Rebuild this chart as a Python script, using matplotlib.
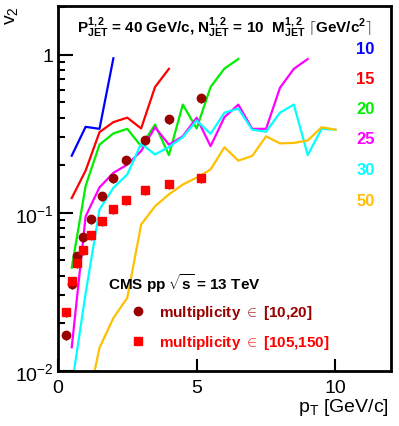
import matplotlib
matplotlib.use("Agg")
import matplotlib.pyplot as plt
import numpy as np

plt.rcParams['font.family'] = ['Liberation Sans', 'DejaVu Sans']
plt.rcParams['mathtext.fontset'] = 'custom'
plt.rcParams['mathtext.rm'] = 'Liberation Sans'
plt.rcParams['mathtext.bf'] = 'Liberation Sans:bold'
plt.rcParams['mathtext.it'] = 'Liberation Sans:italic'

# ---- data ----
mass_labels = ["10", "15", "20", "25", "30", "50"]
mass_colors = ["#0000ff", "#ff0000", "#00ee00", "#ff00ff", "#00ffff", "#ffc000"]

x_m10 = [0.5, 1.0, 1.5, 2.0]
v2_m10 = [0.23, 0.35, 0.34, 0.95]

x_m15 = [0.5, 1.0, 1.5, 2.0, 2.5, 3.0, 3.5, 4.0]
v2_m15 = [0.124, 0.185, 0.324, 0.375, 0.40, 0.342, 0.625, 0.815]

x_m20 = [0.5, 1.0, 1.5, 2.0, 2.5, 3.0, 3.5, 4.0, 4.5, 5.0, 5.5, 6.0, 6.5]
v2_m20 = [0.045, 0.148, 0.27, 0.318, 0.34, 0.264, 0.362, 0.232, 0.484, 0.342, 0.625, 0.818, 0.94]

x_m25 = [0.5, 1.0, 1.5, 2.0, 2.5, 3.0, 3.5, 4.0, 4.5, 5.0, 5.5, 6.0, 6.5, 7.0, 7.5, 8.0, 8.5, 9.0]
v2_m25 = [0.0141, 0.095, 0.145, 0.179, 0.202, 0.246, 0.348, 0.27, 0.305, 0.40, 0.264, 0.403, 0.484,
          0.34, 0.34, 0.618, 0.815, 0.94]

x_m30 = [0.5, 1.0, 1.5, 2.0, 2.5, 3.0, 3.5, 4.0, 4.5, 5.0, 5.5, 6.0, 6.5, 7.0, 7.5, 8.0, 8.5, 9.0, 9.5, 10.0]
v2_m30 = [0.008, 0.031, 0.105, 0.144, 0.175, 0.274, 0.234, 0.261, 0.301, 0.384, 0.316, 0.43, 0.457,
          0.336, 0.326, 0.43, 0.484, 0.232, 0.34, 0.336]

x_m50 = [1.0, 1.5, 2.0, 2.5, 3.0, 3.5, 4.0, 4.5, 5.0, 5.5, 6.0, 6.5, 7.0, 7.5, 8.0, 8.5, 9.0, 9.5, 10.0]
v2_m50 = [0.0054, 0.014, 0.0216, 0.029, 0.0844, 0.110, 0.131, 0.151, 0.167, 0.188, 0.26, 0.214,
          0.229, 0.305, 0.275, 0.277, 0.287, 0.348, 0.336]

cms_pt = [0.3, 0.5, 0.7, 0.9, 1.2, 1.6, 2.0, 2.45, 3.15, 4.0, 5.15]
cms_v2_low = [0.0168, 0.0356, 0.053, 0.0705, 0.092, 0.128, 0.167, 0.216, 0.288, 0.39, 0.535]
cms_v2_high = [0.0236, 0.037, 0.048, 0.058, 0.072, 0.089, 0.106, 0.120, 0.140, 0.153, 0.167]

series_x = [x_m10, x_m15, x_m20, x_m25, x_m30, x_m50]
series_y = [v2_m10, v2_m15, v2_m20, v2_m25, v2_m30, v2_m50]

# ---- figure ----
fig = plt.figure(figsize=(3.99, 4.27), dpi=100)
ax = fig.add_axes([0.145, 0.129, 0.835, 0.855])
ax.set_yscale('log')
ax.set_xlim(0, 12)
ax.set_ylim(0.01, 2.04)

for xs, ys, c in zip(series_x, series_y, mass_colors):
    ax.plot(xs, ys, color=c, lw=1.6, zorder=2)

err_lo = [v * 0.07 for v in cms_v2_low]
err_hi = [v * 0.07 for v in cms_v2_high]
ax.errorbar(cms_pt, cms_v2_low, yerr=[err_lo, [0] * len(err_lo)], fmt='o', color='#990000',
            ecolor='black', elinewidth=1.0, capsize=0, ms=6, zorder=3)
ax.errorbar(cms_pt, cms_v2_high, yerr=[err_hi, [0] * len(err_hi)], fmt='s', color='#ff0000',
            ecolor='black', elinewidth=1.0, capsize=0, ms=6, zorder=3)

# ticks
ax.set_xticks([0, 5, 10])
ax.set_xticklabels(["0", "5", "10"])
ax.xaxis.set_minor_locator(matplotlib.ticker.NullLocator())
ax.tick_params(axis='both', which='both', direction='in', top=False, right=False,
               labelsize=14, width=1.5)
ax.tick_params(axis='x', which='major', length=9, pad=6)
ax.tick_params(axis='y', which='major', length=11, pad=3)
ax.tick_params(axis='y', which='minor', length=5)
ax.set_yticks([0.01, 0.1, 1])
ax.set_yticklabels([r"$10^{-2}$", r"$10^{-1}$", "1"])
for s in ax.spines.values():
    s.set_linewidth(2)

# axis labels
fig.text(0.03, 0.985, r"v$_2$", rotation=90, ha='center', va='top', fontsize=14)
fig.text(0.975, 0.02, r"p$_{\mathrm{T}}$ [GeV/c]", ha='right', va='bottom', fontsize=14)

# header
ax.text(0.5, 0.975,
        r"$\mathbf{P^{1,2}_{JET}}$ = 40 GeV/c, $\mathbf{N^{1,2}_{JET}}$ = 10  $\mathbf{M^{1,2}_{JET}}$ $\lceil$GeV/c$\mathbf{^2}\rceil$",
        transform=ax.transAxes, ha='center', va='top', fontsize=11, fontweight='bold')

label_y = [50, 80, 110, 140, 171, 202]
for lab, c, py in zip(mass_labels, mass_colors, label_y):
    fig.text(365.5 / 399, 1 - py / 427, lab, color=c, ha='center', va='center',
             fontsize=12, fontweight='bold')

# CMS label + legend
fig.text(108 / 399, 1 - 284 / 427, r"CMS pp $\sqrt{\mathbf{s}}$ = 13 TeV", ha='left', va='center',
         fontsize=11, fontweight='bold')
ax.plot([(138 - 58) / 333 * 12], [10 ** (-1 + (215 - 313) / 158)], 'o', color='#990000', ms=6)
ax.plot([(138 - 58) / 333 * 12], [10 ** (-1 + (215 - 343) / 158)], 's', color='#ff0000', ms=6)
fig.text(159 / 399, 1 - 313 / 427, r"multiplicity $\in$ [10,20]", color='#990000', ha='left',
         va='center', fontsize=11, fontweight='bold')
fig.text(159 / 399, 1 - 343 / 427, r"multiplicity $\in$ [105,150]", color='#ff0000', ha='left',
         va='center', fontsize=11, fontweight='bold')

fig.savefig("out.png", dpi=100)
